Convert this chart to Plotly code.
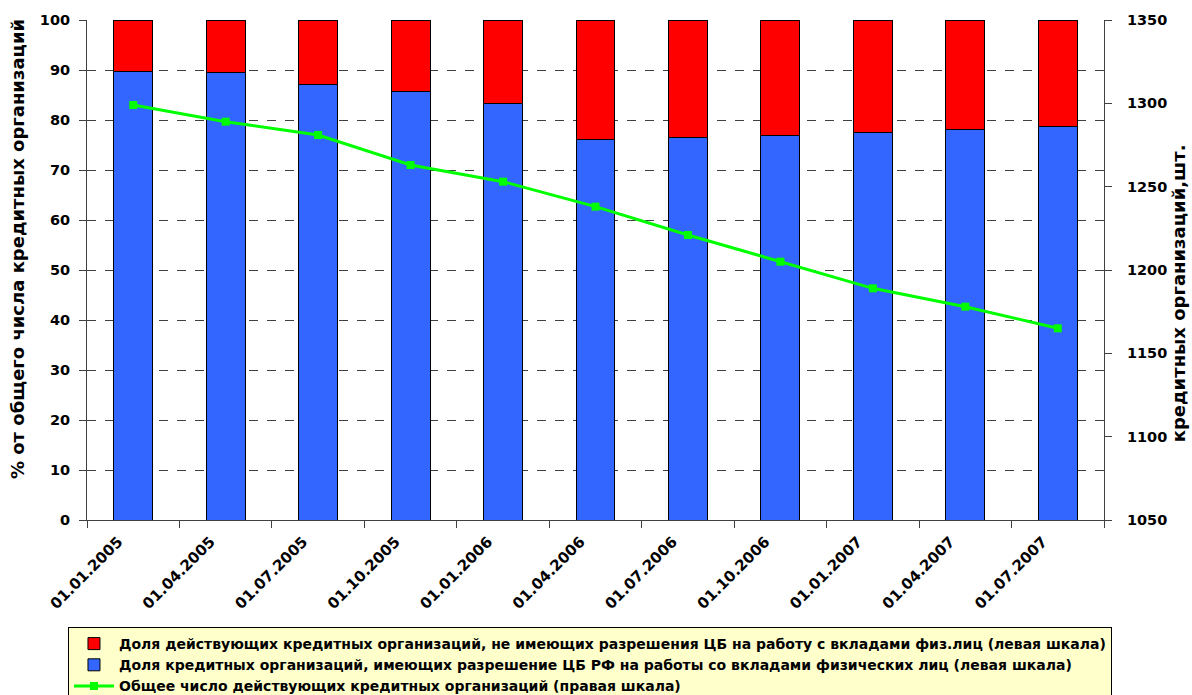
import plotly.graph_objects as go

dates = ["01.01.2005", "01.04.2005", "01.07.2005", "01.10.2005", "01.01.2006",
         "01.04.2006", "01.07.2006", "01.10.2006", "01.01.2007", "01.04.2007", "01.07.2007"]
share_with_license = [89.7, 89.5, 87.1, 85.8, 83.4, 76.2, 76.6, 76.9, 77.5, 78.1, 78.7]
share_without_license = [round(100 - v, 1) for v in share_with_license]
total_count = [1299, 1289, 1281, 1263, 1253, 1238, 1221, 1205, 1189, 1178, 1165]

name_red = "Доля действующих кредитных организаций, не имеющих разрешения ЦБ на работу с вкладами физ.лиц (левая шкала)"
name_blue = "Доля кредитных организаций, имеющих разрешение ЦБ РФ на работы со вкладами физических лиц (левая шкала)"
name_line = "Общее число действующих кредитных организаций (правая шкала)"
left_title = "% от общего числа кредитных организаций"
right_title = "кредитных организаций,шт."

FONT = "DejaVu Sans"

fig = go.Figure()
fig.add_trace(go.Bar(x=dates, y=share_with_license, name=name_blue, legendrank=2,
                     marker=dict(color="#3366FF", line=dict(color="black", width=1)),
                     yaxis="y"))
fig.add_trace(go.Bar(x=dates, y=share_without_license, name=name_red, legendrank=1,
                     marker=dict(color="#FF0000", line=dict(color="black", width=1)),
                     yaxis="y"))
fig.add_trace(go.Scatter(x=dates, y=total_count, name=name_line, legendrank=3,
                         mode="lines+markers", yaxis="y2",
                         line=dict(color="#00FF00", width=3),
                         marker=dict(symbol="square", size=8, color="#00FF00")))

fig.update_layout(
    width=1192, height=695,
    margin=dict(l=87, r=88, t=20, b=175, autoexpand=False),
    paper_bgcolor="white", plot_bgcolor="white",
    barmode="stack", bargap=0.58,
    font=dict(family=FONT, size=14, color="black"),
    showlegend=True,
    legend=dict(x=-0.0187, y=-0.214, xanchor="left", yanchor="top",
                traceorder="normal",
                bgcolor="#FFFFCC", bordercolor="black", borderwidth=1,
                font=dict(family=FONT, size=14, color="black", weight="bold"),
                tracegroupgap=0, itemwidth=40),
    xaxis=dict(type="category", range=[-0.5, 10.5], tickangle=-45, tickson="boundaries",
               ticks="outside", ticklen=7, tickcolor="#404040",
               showline=True, linecolor="#404040", linewidth=1,
               ticklabelshift=-15, ticklabelstandoff=6,
               tickfont=dict(family=FONT, size=15, color="black", weight="bold"),
               showgrid=False),
    yaxis=dict(range=[0, 100], dtick=10, ticks="outside", ticklen=7,
               tickcolor="#404040", showline=True, linecolor="#404040",
               linewidth=1, showgrid=True, gridcolor="#404040", griddash="dash",
               gridwidth=1, zeroline=False, ticklabelstandoff=6,
               tickfont=dict(family=FONT, size=14.5, color="black", weight="bold")),
    yaxis2=dict(range=[1050, 1350], dtick=50, overlaying="y", side="right",
                ticks="outside", ticklen=7, tickcolor="#404040",
                showline=True, linecolor="#404040", linewidth=1,
                showgrid=False, zeroline=False, ticklabelstandoff=12,
                tickfont=dict(family=FONT, size=14.5, color="black", weight="bold")),
    annotations=[
        dict(text=left_title, xref="paper", yref="paper", x=-0.0678, y=0.542,
             xanchor="center", yanchor="middle", textangle=-90, showarrow=False,
             font=dict(family=FONT, size=18, color="black", weight="bold")),
        dict(text=right_title, xref="paper", yref="paper", x=1.073, y=0.454,
             xanchor="center", yanchor="middle", textangle=-90, showarrow=False,
             font=dict(family=FONT, size=18, color="black", weight="bold")),
    ],
)

fig.write_html("out.html")
